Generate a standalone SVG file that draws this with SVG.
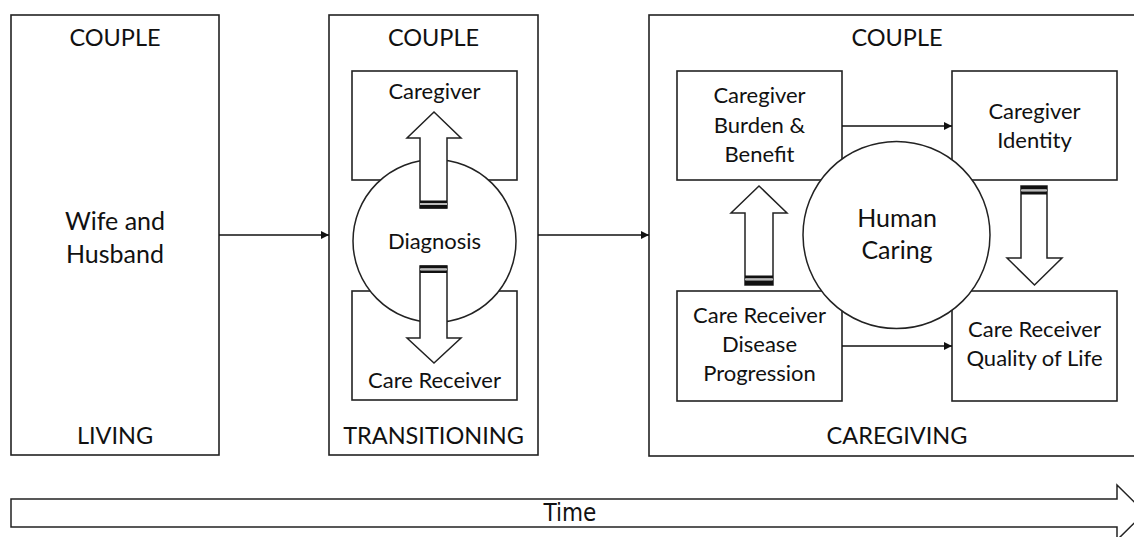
<svg xmlns="http://www.w3.org/2000/svg" width="1134" height="537" viewBox="0 0 1134 537">
<defs>
<marker id="ah" viewBox="0 0 10 10" refX="10" refY="5" markerWidth="8" markerHeight="8" markerUnits="userSpaceOnUse" orient="auto">
<path d="M0,0 L10,5 L0,10 z" fill="#111"/>
</marker>
<style>
.box{fill:#fff;stroke:#222;stroke-width:1.6}
.circ{fill:#fff;stroke:#222;stroke-width:1.5}
.blk{fill:#fff;stroke:#222;stroke-width:1.5;stroke-linejoin:miter}
.band{fill:#111}
.conn{stroke:#111;stroke-width:1.6;fill:none}
text{font-family:Lato,"Open Sans","Liberation Sans",sans-serif;fill:#111;text-anchor:middle}
.hd{font-size:23.5px}
.lb{font-size:22px}
.big{font-size:25px}
.tm{font-family:"DejaVu Sans Condensed","DejaVu Sans",sans-serif;font-stretch:condensed;font-size:24px}
</style>
</defs>

<g id="living">
<rect class="box" x="11" y="15" width="208" height="440"/>
<text class="hd" x="115" y="46">COUPLE</text>
<text class="big" x="115" y="230">Wife and</text>
<text class="big" x="115" y="263">Husband</text>
<text class="hd" x="115" y="444">LIVING</text>
</g>

<g id="transitioning">
<rect class="box" x="329" y="15" width="209" height="440"/>
<text class="hd" x="433.5" y="46">COUPLE</text>
<text class="hd" x="433.5" y="444">TRANSITIONING</text>
</g>
<g id="caregiver">
<rect class="box" x="352" y="71" width="165" height="109"/>
<text class="lb" x="434.5" y="99">Caregiver</text>
</g>
<g id="care-receiver">
<rect class="box" x="352" y="291" width="165" height="109"/>
<text class="lb" x="434.5" y="388">Care Receiver</text>
</g>
<g id="diagnosis">
<circle class="circ" cx="434.5" cy="241" r="81.5"/>
<text class="lb" x="434.5" y="249">Diagnosis</text>
<g id="arrow-up-mid">
<polygon class="blk" points="420,208 420,138 407,138 434,112 461,138 447,138 447,208"/>
<rect class="band" x="420" y="200.5" width="27" height="2.5"/>
<rect x="420" y="203" width="27" height="2" fill="#bbb"/>
<rect class="band" x="420" y="205" width="27" height="3.5"/>
</g>
<g id="arrow-down-mid">
<polygon class="blk" points="420,266 447,266 447,338 461,338 434,363 407,338 420,338"/>
<rect class="band" x="420" y="265.5" width="27" height="3"/>
<rect x="420" y="268.5" width="27" height="2" fill="#bbb"/>
<rect class="band" x="420" y="270.5" width="27" height="2.5"/>
</g>
</g>

<g id="caregiving">
<rect class="box" x="649" y="15" width="496" height="441"/>
<text class="hd" x="897" y="46">COUPLE</text>
<text class="hd" x="897" y="444">CAREGIVING</text>
</g>
<g id="burden-benefit">
<rect class="box" x="677" y="71" width="165" height="109"/>
<text class="lb" x="759.5" y="103">Caregiver</text>
<text class="lb" x="759.5" y="133">Burden &amp;</text>
<text class="lb" x="759.5" y="162">Benefit</text>
</g>
<g id="caregiver-identity">
<rect class="box" x="952" y="71" width="165" height="109"/>
<text class="lb" x="1034.5" y="119">Caregiver</text>
<text class="lb" x="1034.5" y="148">Identity</text>
</g>
<g id="disease-progression">
<rect class="box" x="677" y="291" width="165" height="110"/>
<text class="lb" x="759.5" y="323">Care Receiver</text>
<text class="lb" x="759.5" y="352">Disease</text>
<text class="lb" x="759.5" y="381">Progression</text>
</g>
<g id="quality-of-life">
<rect class="box" x="952" y="291" width="165" height="110"/>
<text class="lb" x="1034.5" y="337">Care Receiver</text>
<text class="lb" x="1034.5" y="366">Quality of Life</text>
</g>
<g id="human-caring">
<circle class="circ" cx="896.5" cy="235" r="93.5"/>
<text class="big" x="897" y="227">Human</text>
<text class="big" x="897" y="259">Caring</text>
</g>

<g id="connectors">
<line class="conn" x1="219" y1="235" x2="329" y2="235" marker-end="url(#ah)"/>
<line class="conn" x1="538" y1="235" x2="649" y2="235" marker-end="url(#ah)"/>
<line class="conn" x1="842" y1="126" x2="952" y2="126" marker-end="url(#ah)"/>
<line class="conn" x1="842" y1="346" x2="952" y2="346" marker-end="url(#ah)"/>
<g id="arrow-up-right">
<polygon class="blk" points="745,285 745,213 731,213 759,186 787,213 773,213 773,285"/>
<rect class="band" x="745" y="275.5" width="28" height="3"/>
<rect x="745" y="278.5" width="28" height="2" fill="#bbb"/>
<rect class="band" x="745" y="280.5" width="28" height="4.5"/>
</g>
<g id="arrow-down-right">
<polygon class="blk" points="1021,186 1047,186 1047,258 1062,258 1034.5,285 1007,258 1021,258"/>
<rect class="band" x="1021" y="186" width="26" height="3.5"/>
<rect x="1021" y="189.5" width="26" height="2" fill="#bbb"/>
<rect class="band" x="1021" y="191.5" width="26" height="3"/>
</g>
</g>

<g id="time">
<polygon class="blk" points="11,499 1117,499 1117,485 1145,512.5 1117,540 1117,527 11,527"/>
<text class="tm" x="570" y="521">Time</text>
</g>
</svg>
